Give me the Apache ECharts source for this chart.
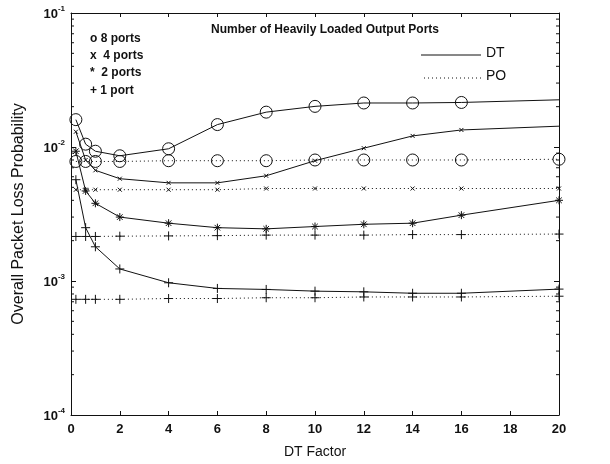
<!DOCTYPE html>
<html>
<head>
<meta charset="utf-8">
<script src="https://cdn.jsdelivr.net/npm/echarts@6/dist/echarts.min.js"></script>
<style>
  html, body { margin: 0; padding: 0; background: #fff; }
  #chart { width: 610px; height: 464px; }
</style>
</head>
<body>
<div id="chart"></div>
<script>
// DT factor values at which the loss probability was evaluated
const dtFactor = [0.2, 0.6, 1, 2, 4, 6, 8, 10, 12, 14, 16, 20];

// Overall packet loss probability, dynamic threshold (DT) scheme
const dt8ports = [0.016, 0.0105, 0.0093, 0.0086, 0.0097, 0.0147, 0.0182, 0.0201, 0.0213, 0.0213, 0.0215, 0.0225];
const dt4ports = [0.013, 0.0080, 0.0067, 0.0058, 0.0054, 0.0054, 0.0061, 0.0079, 0.0098, 0.0121, 0.0134, 0.0143];
const dt2ports = [0.0093, 0.0047, 0.0038, 0.0030, 0.0027, 0.0025, 0.00245, 0.00255, 0.00265, 0.0027, 0.0031, 0.0040];
const dt1port  = [0.0057, 0.0025, 0.0018, 0.00123, 0.00097, 0.00088, 0.000865, 0.00084, 0.00083, 0.00081, 0.00081, 0.00087];

// Overall packet loss probability, PO scheme
const po8ports = [0.0078, 0.0078, 0.0078, 0.0078, 0.0079, 0.0079, 0.0079, 0.0080, 0.0080, 0.0080, 0.0080, 0.0081];
const po4ports = [0.0048, 0.0048, 0.0048, 0.0048, 0.0048, 0.0048, 0.0049, 0.0049, 0.0049, 0.0049, 0.0049, 0.0049];
const po2ports = [0.00215, 0.00215, 0.00215, 0.00216, 0.00217, 0.00218, 0.0022, 0.0022, 0.0022, 0.00222, 0.00222, 0.00224];
const po1port  = [0.00073, 0.00073, 0.00073, 0.00073, 0.00074, 0.00074, 0.00075, 0.00075, 0.00076, 0.00076, 0.00076, 0.00077];

// Axis ticks
const xTicks = [0, 2, 4, 6, 8, 10, 12, 14, 16, 18, 20];
const yDecades = [-4, -3, -2, -1];

const FONT = '"Liberation Sans", Arial, Helvetica, sans-serif';
const INK = '#111';

// Marker shapes drawn as stroked paths
const SYM_CIRCLE = 'circle';
const SYM_X = 'path://M0,0L10,10M10,0L0,10';
const SYM_PLUS = 'path://M5,0L5,10M0,5L10,5';
const SYM_STAR = 'path://M5,0L5,10M0,5L10,5M1.5,1.5L8.5,8.5M8.5,1.5L1.5,8.5';

function pairs(ys) { return dtFactor.map((x, i) => [x, ys[i]]); }

function lineSeries(name, ys, symbol, size, dotted, lastMarker) {
  const n = ys.length;
  return {
    name: name,
    type: 'line',
    data: pairs(ys),
    symbol: lastMarker === false
      ? function (v, p) { return p.dataIndex === n - 1 ? 'none' : symbol; }
      : symbol,
    symbolSize: size,
    showAllSymbol: true,
    silent: true,
    animation: false,
    lineStyle: { color: INK, width: 1, type: dotted ? [1, 3] : 'solid' },
    itemStyle: { color: 'transparent', borderColor: INK, borderWidth: 1 },
    z: 3
  };
}

// Log-scale minor tick values (2..9 in every decade)
const minorTickValues = [];
for (let e = -4; e < -1; e++) {
  for (let m = 2; m <= 9; m++) minorTickValues.push(m * Math.pow(10, e));
}

const chart = echarts.init(document.getElementById('chart'), null, { renderer: 'canvas' });

const option = {
  backgroundColor: '#fff',
  animation: false,
  grid: { left: 71, right: 51, top: 13, bottom: 48, containLabel: false },
  xAxis: [
    {
      type: 'value', min: 0, max: 20, interval: 2,
      name: 'DT Factor', nameLocation: 'middle', nameGap: 30,
      nameTextStyle: { color: INK, fontFamily: FONT, fontSize: 14 },
      axisLine: { show: true, onZero: false, lineStyle: { color: INK, width: 1 } },
      axisTick: { show: true, inside: true, length: 4, lineStyle: { color: INK } },
      axisLabel: { color: INK, fontFamily: FONT, fontSize: 13, fontWeight: 'bold', margin: 8,
        formatter: v => (xTicks.indexOf(v) >= 0 ? String(v) : '') },
      splitLine: { show: false }
    },
    {
      type: 'value', min: 0, max: 20, interval: 2, position: 'top',
      axisLine: { show: true, onZero: false, lineStyle: { color: INK, width: 1 } },
      axisTick: { show: true, inside: true, length: 4, lineStyle: { color: INK } },
      axisLabel: { show: false },
      splitLine: { show: false }
    }
  ],
  yAxis: [
    {
      type: 'log', logBase: 10, min: 1e-4, max: 1e-1,
      name: 'Overall Packet Loss Probability', nameLocation: 'middle', nameGap: 44,
      nameTextStyle: { color: INK, fontFamily: FONT, fontSize: 16 },
      axisLine: { show: true, onZero: false, lineStyle: { color: INK, width: 1 } },
      axisTick: { show: true, inside: true, length: 5, lineStyle: { color: INK } },
      axisLabel: {
        color: INK, fontFamily: FONT, margin: 6,
        formatter: function (v) {
          const e = Math.round(Math.log10(v));
          return yDecades.indexOf(e) >= 0 ? '{b|10}{s|' + e + '}' : '';
        },
        rich: {
          b: { fontFamily: FONT, fontSize: 13, fontWeight: 'bold', color: INK, verticalAlign: 'bottom', lineHeight: 16 },
          s: { fontFamily: FONT, fontSize: 8, fontWeight: 'bold', color: INK, verticalAlign: 'top', lineHeight: 16 }
        }
      },
      splitLine: { show: false }
    },
    {
      type: 'log', logBase: 10, min: 1e-4, max: 1e-1, position: 'right',
      axisLine: { show: true, onZero: false, lineStyle: { color: INK, width: 1 } },
      axisTick: { show: true, inside: true, length: 5, lineStyle: { color: INK } },
      axisLabel: { show: false },
      splitLine: { show: false }
    }
  ],
  series: [
    lineSeries('DT 8 ports', dt8ports, SYM_CIRCLE, 12, false, false),
    lineSeries('PO 8 ports', po8ports, SYM_CIRCLE, 12, true),
    lineSeries('DT 4 ports', dt4ports, SYM_X, 4, false, false),
    lineSeries('PO 4 ports', po4ports, SYM_X, 4, true),
    lineSeries('DT 2 ports', dt2ports, SYM_STAR, 8, false),
    lineSeries('PO 2 ports', po2ports, SYM_PLUS, 9, true),
    lineSeries('DT 1 port', dt1port, SYM_PLUS, 9, false),
    lineSeries('PO 1 port', po1port, SYM_PLUS, 9, true),
    {
      // minor ticks on the left and right frame edges of the log axis
      type: 'custom',
      silent: true,
      animation: false,
      data: minorTickValues.map(v => [0, v]),
      encode: { x: 0, y: 1 },
      renderItem: function (params, api) {
        const l = api.coord([0, api.value(1)]);
        const r = api.coord([20, api.value(1)]);
        const st = { stroke: INK, lineWidth: 1 };
        return {
          type: 'group',
          children: [
            { type: 'line', shape: { x1: l[0], y1: l[1], x2: l[0] + 3, y2: l[1] }, style: st },
            { type: 'line', shape: { x1: r[0], y1: r[1], x2: r[0] - 3, y2: r[1] }, style: st }
          ]
        };
      },
      z: 2
    }
  ],
  graphic: [
    { type: 'text', left: 211, top: 24,
      style: { text: 'Number of Heavily Loaded Output Ports', fill: INK, font: 'bold 12px ' + FONT } },
    { type: 'text', left: 90, top: 33, style: { text: 'o 8 ports', fill: INK, font: 'bold 12px ' + FONT } },
    { type: 'text', left: 90, top: 50, style: { text: 'x  4 ports', fill: INK, font: 'bold 12px ' + FONT } },
    { type: 'text', left: 90, top: 67, style: { text: '*  2 ports', fill: INK, font: 'bold 12px ' + FONT } },
    { type: 'text', left: 90, top: 85, style: { text: '+ 1 port', fill: INK, font: 'bold 12px ' + FONT } },
    { type: 'line', shape: { x1: 421, y1: 55, x2: 481, y2: 55 }, style: { stroke: INK, lineWidth: 1 } },
    { type: 'text', left: 486, top: 46, style: { text: 'DT', fill: INK, font: '14px ' + FONT } },
    { type: 'line', shape: { x1: 424, y1: 78, x2: 481, y2: 78 }, style: { stroke: INK, lineWidth: 1, lineDash: [1, 3] } },
    { type: 'text', left: 486, top: 69, style: { text: 'PO', fill: INK, font: '14px ' + FONT } }
  ]
};

chart.setOption(option);
</script>
</body>
</html>
